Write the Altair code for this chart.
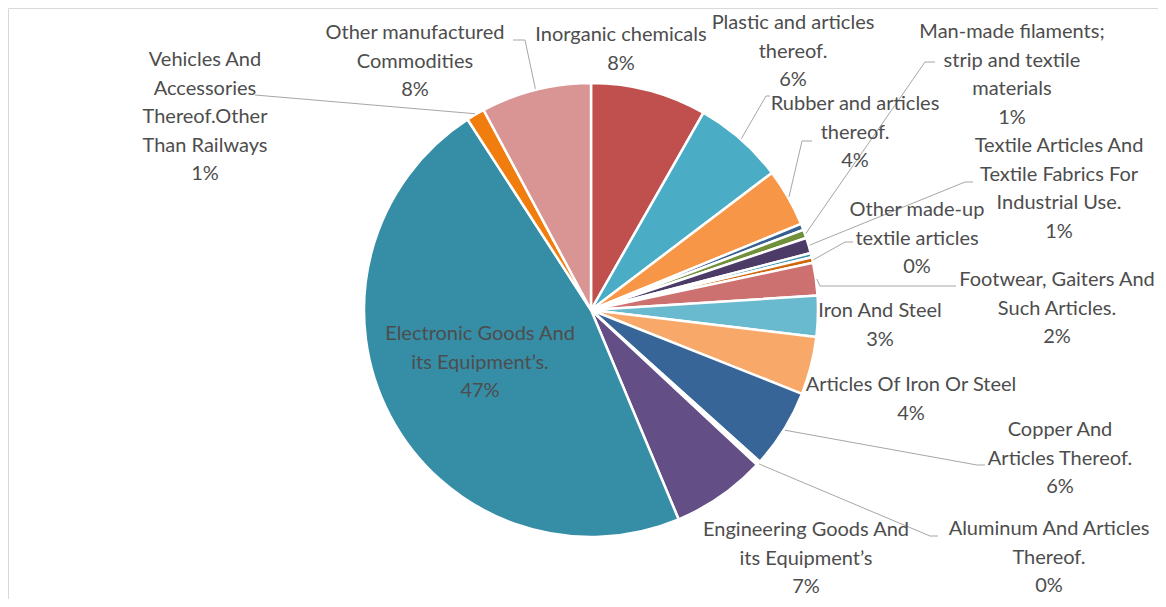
import math
import altair as alt
import pandas as pd

# ---- data ----
categories = [
    "Inorganic chemicals",
    "Plastic and articles thereof.",
    "Rubber and articles thereof.",
    "Other textile yarn (unlabelled)",
    "Man-made filaments; strip and textile materials",
    "Textile Articles And Textile Fabrics For Industrial Use.",
    "Other textile items (unlabelled)",
    "Other made-up textile articles",
    "Footwear, Gaiters And Such Articles.",
    "Iron And Steel",
    "Articles Of Iron Or Steel",
    "Copper And Articles Thereof.",
    "Aluminum And Articles Thereof.",
    "Engineering Goods And its Equipment’s",
    "Electronic Goods And its Equipment’s.",
    "Vehicles And Accessories Thereof.Other Than Railways",
    "Other manufactured Commodities",
]
values = [8.2, 6.4, 4.1, 0.45, 0.6, 1.1, 0.3, 0.4, 2.3, 2.9, 4.1, 5.6, 0.3, 6.7, 46.9, 1.3, 7.8]
labels = [
    "Inorganic chemicals",
    "Plastic and articles\nthereof.",
    "Rubber and articles\nthereof.",
    "",
    "Man-made filaments;\nstrip and textile\nmaterials",
    "Textile Articles And\nTextile Fabrics For\nIndustrial Use.",
    "",
    "Other made-up\ntextile articles",
    "Footwear, Gaiters And\nSuch Articles.",
    "Iron And Steel",
    "Articles Of Iron Or Steel",
    "Copper And\nArticles Thereof.",
    "Aluminum And Articles\nThereof.",
    "Engineering Goods And\nits Equipment’s",
    "Electronic Goods And\nits Equipment’s.",
    "Vehicles And\nAccessories\nThereof.Other\nThan Railways",
    "Other manufactured\nCommodities",
]

# ---- styles / layout ----
colors = ["#C0504D", "#4BACC6", "#F79646", "#376092", "#70903A", "#4B3B66", "#3B93AB",
          "#D0670C", "#CD7070", "#6ABACF", "#F8A96A", "#376598", "#FFFFFF", "#634E85",
          "#368DA6", "#F07D0E", "#D99594"]
CX, CY, R = 583, 302, 227
# label positions: centre x and first-line y (plot coordinates)
label_x = [613, 785, 847, None, 1004, 1051, None, 909, 1049, 872, 903, 1052, 1041, 798, 472, 197, 407]
label_y = [27, 15, 96, None, 24, 138, None, 202, 272, 303, 377, 422, 521, 522, 326, 52, 25]
# leader lines: category index -> (elbow, end)
leaders = {
    1: ((758, 88), (762, 88)),
    2: ((794, 133), (804, 133)),
    4: ((917, 54), (927, 54)),
    5: ((957, 174), (965, 174)),
    7: ((837, 234), (845, 234)),
    8: ((812, 278), (948, 278)),
    11: ((969, 457), (977, 457)),
    12: ((922, 528), (930, 528)),
    15: ((247, 87), (247, 87)),
    16: ((517, 32), (505, 32)),
}

df = pd.DataFrame({
    "idx": list(range(len(categories))),
    "category": categories,
    "value": values,
    "label": labels,
    "lx": label_x,
    "ly": label_y,
})

total = sum(values)
cum = 0.0
mids = []
for v in values:
    mids.append((cum + v / 2) / total * 2 * math.pi)
    cum += v
rows = []
for i, (elbow, end) in leaders.items():
    a = mids[i]
    rows.append({"lid": i, "k": 0, "px": CX + (R + 1) * math.sin(a), "py": CY - (R + 1) * math.cos(a)})
    rows.append({"lid": i, "k": 1, "px": elbow[0], "py": elbow[1]})
    rows.append({"lid": i, "k": 2, "px": end[0], "py": end[1]})
lead_df = pd.DataFrame(rows)

arcs = alt.Chart(df).mark_arc(outerRadius=R, stroke="white", strokeWidth=2.5).encode(
    theta=alt.Theta("value:Q", stack=True),
    order=alt.Order("idx:Q"),
    color=alt.Color("category:N", scale=alt.Scale(domain=categories, range=colors), legend=None),
    x=alt.value(CX),
    y=alt.value(CY),
)

text = alt.Chart(df).transform_joinaggregate(
    total="sum(value)"
).transform_filter(
    "datum.label != ''"
).transform_calculate(
    txt="datum.label + '\\n' + format(datum.value / datum.total, '.0%')"
).mark_text(
    font="Lato", fontSize=20, color="#4D4D4D", lineBreak="\n", lineHeight=28.5,
    align="center", baseline="middle"
).encode(
    x=alt.X("lx:Q", scale=None),
    y=alt.Y("ly:Q", scale=None),
    text="txt:N",
)

lines = alt.Chart(lead_df).mark_line(color="#A6A6A6", strokeWidth=1).encode(
    x=alt.X("px:Q", scale=None),
    y=alt.Y("py:Q", scale=None),
    detail="lid:N",
    order="k:Q",
)

chart = alt.layer(arcs, lines, text).properties(
    width=1150, height=591, autosize=alt.AutoSizeParams(type="none"), padding=0
).configure_view(stroke="#D9D9D9")

chart.save("out.html", embed_options={"renderer": "svg", "actions": False})
